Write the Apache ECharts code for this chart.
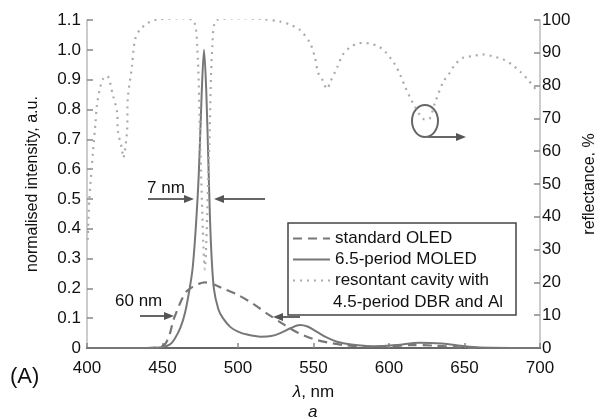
<!DOCTYPE html>
<html><head><meta charset="utf-8">
<script src="https://cdn.jsdelivr.net/npm/echarts@6/dist/echarts.min.js"></script>
<style>html,body{margin:0;padding:0;background:#fff}#c{width:595px;height:419px}</style>
</head><body><div id="c"></div>
<script>
// standard OLED emission (wavelength nm, normalised intensity)
var oledData = [[400,0],[440,0],[448,0.003],[452,0.015],[455,0.05],[457,0.09],[460,0.13],[463,0.165],[466,0.19],[470,0.205],[474,0.215],[478,0.22],[484,0.213],[490,0.2],[500,0.178],[510,0.148],[520,0.113],[530,0.08],[540,0.05],[550,0.03],[560,0.018],[570,0.01],[585,0.005],[600,0.005],[615,0.01],[630,0.008],[645,0.003],[660,0],[700,0]];
// 6.5-period MOLED emission
var moledData = [[400,0],[440,0],[450,0.003],[455,0.012],[458,0.03],[462,0.07],[465,0.12],[468,0.2],[470,0.27],[472,0.4],[474,0.58],[476,0.86],[477.5,1.0],[479,0.86],[480.5,0.6],[482,0.36],[484,0.2],[487,0.13],[490,0.1],[495,0.07],[500,0.055],[506,0.045],[515,0.038],[522,0.04],[528,0.05],[535,0.067],[541,0.077],[546,0.072],[552,0.055],[558,0.037],[565,0.022],[575,0.012],[590,0.006],[605,0.01],[620,0.018],[635,0.015],[650,0.006],[660,0.002],[700,0]];
// resonant cavity reflectance, %
var reflData = [[400.5,33],[401.5,45],[404,60],[405.5,68],[406.6,74],[408.5,79],[410.6,82],[413.2,83],[417.2,77],[419.9,72],[420.5,66],[423,61],[424,58],[426.5,66],[427,76],[429.8,86],[431.8,94],[435,97],[440,99],[445,100],[460,100.5],[470,100],[473,92],[475,62],[477,32],[478,24],[479,32],[481,62],[483,92],[486,100],[500,100.5],[515,100.3],[528,99.5],[534.4,98.6],[541,97],[547.7,93],[551,88.5],[553,84],[555.6,82],[559,79],[561,81],[565.6,85.5],[569.5,89.5],[574,91.6],[578.8,92.8],[582.8,93],[587.4,92.8],[592.7,92],[597.4,90.4],[604,86.4],[607.3,83.4],[610.6,79.7],[614,76.3],[617.2,73.6],[620.5,71],[623.8,69.6],[627,70],[630.5,74.8],[635.8,81],[640.4,84],[643.7,86.4],[649,88.5],[655.6,89],[662,89.5],[668.9,88.9],[675.5,88],[681.5,86.4],[686.8,84.3],[692,81.8],[698.7,78]];
var seriesNames = ['standard OLED','6.5-period MOLED','resontant cavity with'];
var legendExtraLine = '4.5-period DBR and Al';

var chart = echarts.init(document.getElementById('c'));
var F = 'Arial, "Liberation Sans", Helvetica, sans-serif';
var tickStyle = {color:'#888', width:1.5};
chart.setOption({
  animation:false,
  backgroundColor:'#fff',
  grid:{left:87,right:55,top:20,bottom:71, outerBoundsMode:'none', containLabel:false},
  legend:{
    left:288, top:224, orient:'vertical',
    data:seriesNames,
    itemWidth:37, itemHeight:14, itemGap:4,
    itemStyle:{opacity:0},
    textStyle:{fontFamily:F, fontSize:17, color:'#111'},
    padding:[6,6,6,4]
  },
  xAxis:[{
    type:'value', min:400, max:700, interval:50,
    name:'{i|λ}, nm', nameLocation:'middle', nameGap:36,
    nameTextStyle:{fontFamily:F, fontSize:17, color:'#111',
      rich:{i:{fontFamily:F, fontSize:17, fontStyle:'italic', color:'#111'}}},
    axisLine:{lineStyle:{color:'#666', width:2}},
    axisTick:{inside:true, length:5, lineStyle:tickStyle},
    axisLabel:{fontFamily:F, fontSize:17, color:'#111', margin:12},
    splitLine:{show:false}
  },{
    type:'value', min:400, max:700, position:'top',
    axisLine:{lineStyle:{color:'#666', width:2}},
    axisTick:{show:false}, axisLabel:{show:false}, splitLine:{show:false}
  }],
  yAxis:[{
    type:'value', min:0, max:1.1, interval:0.1,
    name:'normalised intensity, a.u.', nameLocation:'middle', nameGap:46,
    nameTextStyle:{fontFamily:F, fontSize:16, color:'#111'},
    axisLine:{show:true, lineStyle:{color:'#bbb', width:1.5}},
    axisTick:{show:true, inside:true, length:6, lineStyle:tickStyle},
    axisLabel:{fontFamily:F, fontSize:17, color:'#111', margin:6,
      formatter:function(v){return v===0?'0':v.toFixed(1);}},
    splitLine:{show:false}
  },{
    type:'value', min:0, max:100, interval:10, position:'right',
    name:'reflectance, %', nameLocation:'middle', nameGap:32, nameRotate:90,
    nameTextStyle:{fontFamily:F, fontSize:16, color:'#111'},
    axisLine:{show:true, lineStyle:{color:'#bbb', width:1.5}},
    axisTick:{show:true, inside:true, length:6, lineStyle:tickStyle},
    axisLabel:{fontFamily:F, fontSize:17, color:'#111', margin:2},
    splitLine:{show:false}
  }],
  series:[{
    name:seriesNames[0], type:'line', data:oledData, showSymbol:false, symbol:'none',
    smooth:0.3, lineStyle:{color:'#777', width:2.2, type:[9,6]}, itemStyle:{color:'#777'}
  },{
    name:seriesNames[1], type:'line', data:moledData, showSymbol:false, symbol:'none',
    smooth:0.3, lineStyle:{color:'#777', width:2}, itemStyle:{color:'#777'}
  },{
    name:seriesNames[2], type:'line', yAxisIndex:1, data:reflData, showSymbol:false, symbol:'none',
    smooth:0.3, lineStyle:{color:'#aaa', width:2.2, type:[2,5]}, itemStyle:{color:'#aaa'}
  }],
  graphic:[
    {type:'rect', z:3, shape:{x:288, y:223, width:228, height:92}, style:{fill:'#fff', stroke:'#444', lineWidth:1.5}},
    {type:'text', z:5, left:333, top:294, style:{text:legendExtraLine, font:'17px '+F, fill:'#111'}},
    {type:'text', left:10, top:366, style:{text:'(A)', font:'22px '+F, fill:'#111'}},
    {type:'text', left:308, top:404, style:{text:'a', font:'italic 17px '+F, fill:'#111'}},
    {type:'text', left:147, top:180, style:{text:'7 nm', font:'17px '+F, fill:'#111'}},
    {type:'line', shape:{x1:148,y1:199,x2:186,y2:199}, style:{stroke:'#666', lineWidth:2}},
    {type:'polygon', shape:{points:[[194,199],[184,195],[184,203]]}, style:{fill:'#555'}},
    {type:'line', shape:{x1:265,y1:199,x2:222,y2:199}, style:{stroke:'#666', lineWidth:2}},
    {type:'polygon', shape:{points:[[214,199],[224,195],[224,203]]}, style:{fill:'#555'}},
    {type:'text', left:115, top:293, style:{text:'60 nm', font:'17px '+F, fill:'#111'}},
    {type:'line', shape:{x1:140,y1:316,x2:166,y2:316}, style:{stroke:'#666', lineWidth:2}},
    {type:'polygon', shape:{points:[[174,316],[164,312],[164,320]]}, style:{fill:'#555'}},
    {type:'line', shape:{x1:300,y1:317,x2:281,y2:317}, style:{stroke:'#666', lineWidth:2}},
    {type:'polygon', shape:{points:[[273,317],[283,313],[283,321]]}, style:{fill:'#555'}},
    {type:'ellipse', shape:{cx:425, cy:121, rx:13, ry:16}, style:{stroke:'#666', lineWidth:2, fill:'none'}},
    {type:'line', shape:{x1:428,y1:137,x2:458,y2:137}, style:{stroke:'#666', lineWidth:2}},
    {type:'polygon', shape:{points:[[466,137],[456,133],[456,141]]}, style:{fill:'#555'}}
  ]
});
</script></body></html>
